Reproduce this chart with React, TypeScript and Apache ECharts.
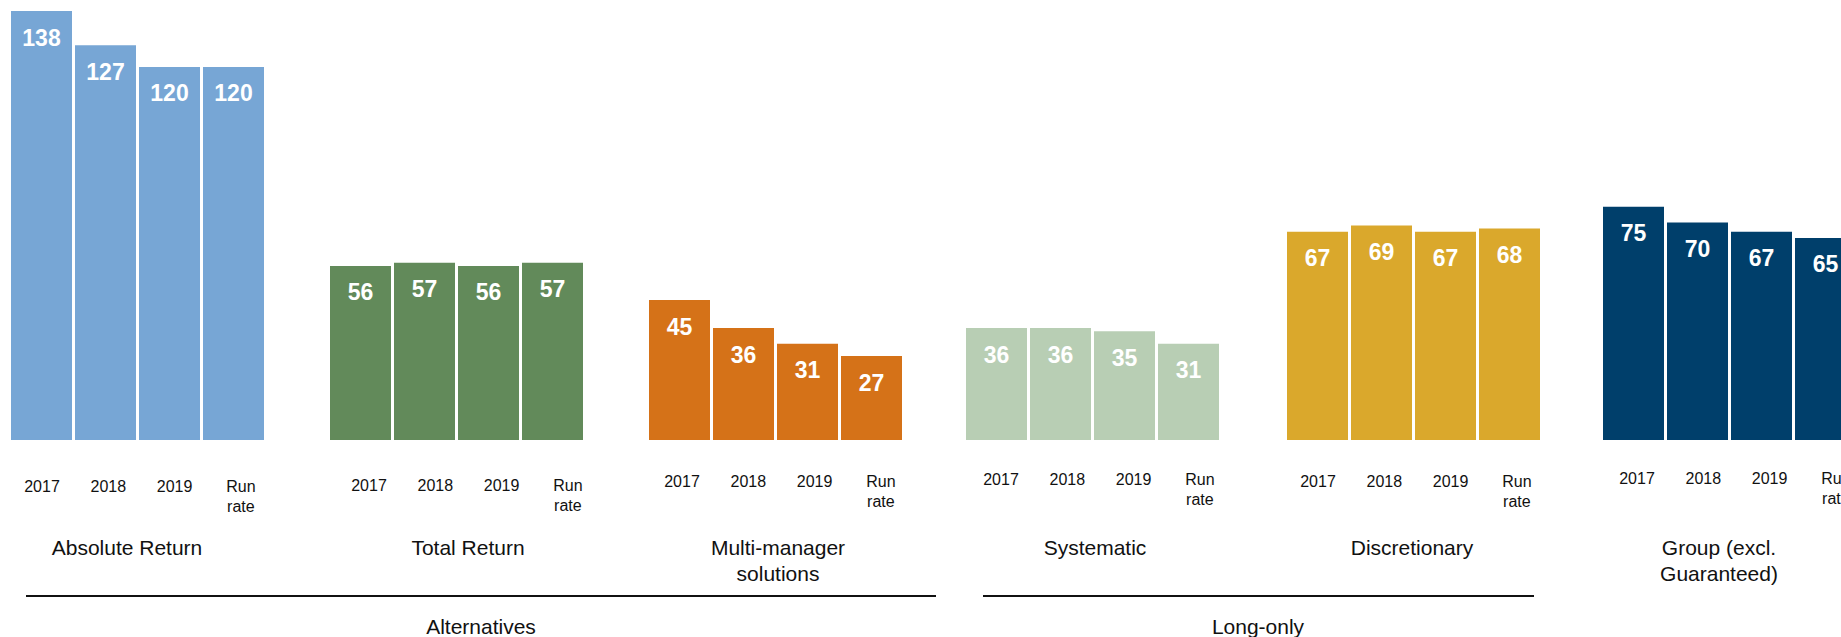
import React, { useEffect, useRef } from "react";
import * as echarts from "echarts";

// ---- Data ----
const periods = ["2017", "2018", "2019", "Run\nrate"];
const absoluteReturn = [138, 127, 120, 120];
const totalReturn = [56, 57, 56, 57];
const multiManager = [45, 36, 31, 27];
const systematic = [36, 36, 35, 31];
const discretionary = [67, 69, 67, 68];
const groupExclGuaranteed = [75, 70, 67, 65];
const segmentNames = [
  "Absolute Return",
  "Total Return",
  "Multi-manager\nsolutions",
  "Systematic",
  "Discretionary",
  "Group (excl.\nGuaranteed)",
];
const categoryNames = ["Alternatives", "Long-only"];

// ---- Styles / layout ----
const segmentColors = ["#77A6D5", "#628A5A", "#D57218", "#B8CEB4", "#DAA82C", "#003F6B"];
const segmentValues = [absoluteReturn, totalReturn, multiManager, systematic, discretionary, groupExclGuaranteed];
const groupStarts = [11, 330, 649, 966, 1287, 1603];
const labelFirstCenters = [42, 369, 682, 1001, 1318, 1637];
const labelRowY = [486, 485, 481, 479, 481, 478];
const segmentNameX = [127, 468, 778, 1095, 1412, 1719];
const categorySpans = [
  [26, 936],
  [983, 1534],
];
const categoryNameX = [481, 1258];

const FONT = "'Liberation Sans', Arial, sans-serif";
const BASELINE = 440;
const PX_PER_UNIT = 429 / 138;
const Y_MAX = 140;
const BAND = 64;
const LABEL_BAND = 66.3;
const CANVAS_W = 1900; // wider than the viewport: the last group runs off the right edge
const VIEW_W = 1841;
const VIEW_H = 637;

export default function App() {
  const ref = useRef<HTMLDivElement>(null);

  useEffect(() => {
    if (!ref.current) return;
    const chart = echarts.init(ref.current, undefined, { renderer: "svg" });
    const plotH = Y_MAX * PX_PER_UNIT;

    const grids: any[] = [];
    const xAxes: any[] = [];
    const yAxes: any[] = [];
    const series: any[] = [];

    segmentValues.forEach((vals, i) => {
      // bar grid
      grids.push({
        left: groupStarts[i] - (BAND - 61) / 2,
        width: BAND * 4,
        top: BASELINE - plotH,
        height: plotH,
        containLabel: false,
      });
      xAxes.push({
        type: "category",
        gridIndex: 2 * i,
        data: periods,
        show: false,
      });
      yAxes.push({ type: "value", gridIndex: 2 * i, min: 0, max: Y_MAX, show: false });
      // label grid
      grids.push({
        left: labelFirstCenters[i] - LABEL_BAND / 2,
        width: LABEL_BAND * 4,
        top: BASELINE - 1,
        height: 1,
        containLabel: false,
      });
      xAxes.push({
        type: "category",
        gridIndex: 2 * i + 1,
        data: periods,
        axisLine: { show: false },
        axisTick: { show: false },
        splitLine: { show: false },
        axisLabel: {
          interval: 0,
          margin: labelRowY[i] - BASELINE - 10,
          fontSize: 16,
          lineHeight: 20,
          color: "#111",
          fontFamily: FONT,
        },
      });
      yAxes.push({ type: "value", gridIndex: 2 * i + 1, show: false });

      series.push({
        type: "bar",
        name: segmentNames[i],
        xAxisIndex: 2 * i,
        yAxisIndex: 2 * i,
        data: vals,
        barWidth: 61,
        itemStyle: { color: segmentColors[i] },
        label: {
          show: true,
          position: "insideTop",
          distance: 15,
          color: "#fff",
          fontSize: 23,
          lineHeight: 23,
          fontWeight: "bold",
          fontFamily: FONT,
        },
      });
    });

    const graphics: any[] = [];
    segmentNames.forEach((name, i) => {
      graphics.push({
        type: "text",
        x: segmentNameX[i],
        y: 547 - 13,
        style: {
          text: name,
          fill: "#111",
          font: `21px ${FONT}`,
          lineHeight: 26,
          textAlign: "center",
          textVerticalAlign: "top",
        },
      });
    });
    categoryNames.forEach((name, i) => {
      graphics.push({
        type: "line",
        shape: { x1: categorySpans[i][0], y1: 596, x2: categorySpans[i][1], y2: 596 },
        style: { stroke: "#111", lineWidth: 2 },
      });
      graphics.push({
        type: "text",
        x: categoryNameX[i],
        y: 626 - 10.5,
        style: {
          text: name,
          fill: "#111",
          font: `21px ${FONT}`,
          lineHeight: 21,
          textAlign: "center",
          textVerticalAlign: "top",
        },
      });
    });

    chart.setOption({
      animation: false,
      backgroundColor: "#fff",
      grid: grids,
      xAxis: xAxes,
      yAxis: yAxes,
      series,
      graphic: graphics,
    });
    return () => chart.dispose();
  }, []);

  return (
    <div
      style={{
        position: "fixed",
        left: 0,
        top: 0,
        width: VIEW_W,
        height: VIEW_H,
        overflow: "hidden",
        background: "#fff",
      }}
    >
      <div ref={ref} style={{ width: CANVAS_W, height: VIEW_H }} />
    </div>
  );
}
